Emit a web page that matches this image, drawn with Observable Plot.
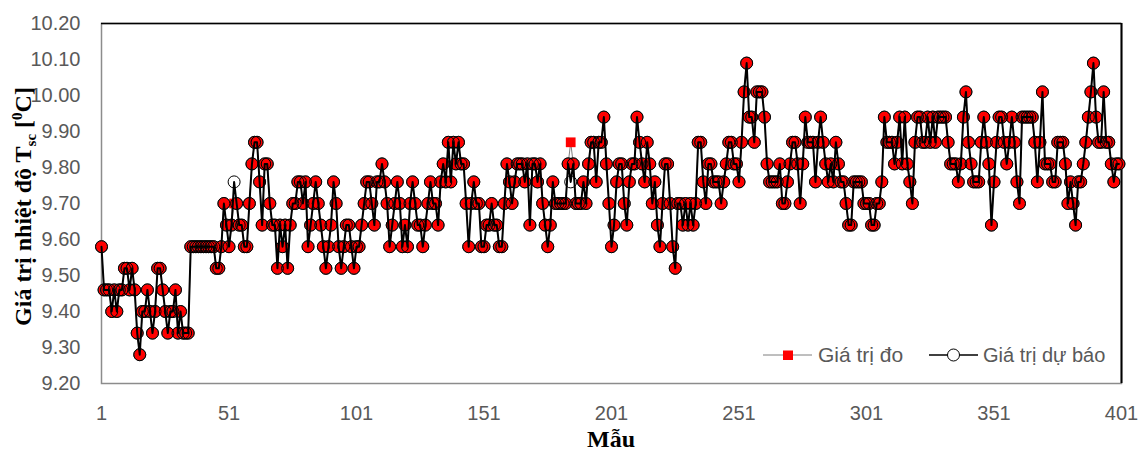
<!DOCTYPE html>
<html><head><meta charset="utf-8">
<script src="https://cdn.jsdelivr.net/npm/d3@7"></script>
<script src="https://cdn.jsdelivr.net/npm/@observablehq/plot@0.6"></script>
<style>html,body{margin:0;padding:0;background:#fff}</style>
</head><body><div id="chart"></div>
<script>
const measured = [
  9.58, 9.46, 9.46, 9.46, 9.40, 9.46, 9.40, 9.46, 9.46, 9.52,
  9.52, 9.46, 9.52, 9.46, 9.34, 9.28, 9.40, 9.40, 9.46, 9.40,
  9.34, 9.40, 9.52, 9.52, 9.46, 9.40, 9.34, 9.40, 9.40, 9.46,
  9.34, 9.40, 9.34, 9.34, 9.34, 9.58, 9.58, 9.58, 9.58, 9.58,
  9.58, 9.58, 9.58, 9.58, 9.58, 9.52, 9.52, 9.58, 9.70, 9.64,
  9.58, 9.64, 9.70, 9.70, 9.64, 9.64, 9.58, 9.58, 9.70, 9.81,
  9.87, 9.87, 9.76, 9.64, 9.81, 9.81, 9.70, 9.64, 9.64, 9.52,
  9.64, 9.58, 9.64, 9.52, 9.64, 9.70, 9.70, 9.76, 9.76, 9.70,
  9.76, 9.58, 9.64, 9.70, 9.76, 9.70, 9.64, 9.58, 9.52, 9.58,
  9.64, 9.76, 9.70, 9.58, 9.52, 9.58, 9.64, 9.64, 9.58, 9.52,
  9.58, 9.58, 9.64, 9.70, 9.76, 9.76, 9.70, 9.64, 9.76, 9.76,
  9.81, 9.76, 9.70, 9.58, 9.64, 9.70, 9.76, 9.70, 9.58, 9.64,
  9.58, 9.70, 9.76, 9.70, 9.64, 9.64, 9.58, 9.64, 9.70, 9.76,
  9.70, 9.70, 9.64, 9.76, 9.81, 9.76, 9.87, 9.76, 9.87, 9.81,
  9.87, 9.81, 9.81, 9.70, 9.58, 9.70, 9.76, 9.70, 9.70, 9.58,
  9.58, 9.64, 9.64, 9.70, 9.64, 9.64, 9.58, 9.58, 9.70, 9.81,
  9.76, 9.70, 9.76, 9.81, 9.81, 9.81, 9.76, 9.81, 9.64, 9.81,
  9.81, 9.76, 9.81, 9.70, 9.64, 9.58, 9.64, 9.76, 9.70, 9.70,
  9.70, 9.70, 9.70, 9.81, 9.87, 9.81, 9.70, 9.70, 9.70, 9.76,
  9.70, 9.81, 9.87, 9.87, 9.76, 9.87, 9.87, 9.94, 9.81, 9.70,
  9.58, 9.64, 9.76, 9.81, 9.81, 9.70, 9.64, 9.76, 9.81, 9.81,
  9.94, 9.87, 9.81, 9.76, 9.87, 9.81, 9.70, 9.76, 9.64, 9.58,
  9.70, 9.81, 9.81, 9.70, 9.58, 9.52, 9.70, 9.70, 9.64, 9.70,
  9.64, 9.70, 9.64, 9.70, 9.87, 9.87, 9.76, 9.70, 9.81, 9.81,
  9.76, 9.76, 9.76, 9.70, 9.76, 9.81, 9.87, 9.87, 9.81, 9.81,
  9.76, 9.87, 10.01, 10.09, 9.94, 9.94, 9.87, 10.01, 10.01, 10.01,
  9.94, 9.81, 9.76, 9.76, 9.76, 9.76, 9.81, 9.70, 9.70, 9.76,
  9.81, 9.87, 9.87, 9.81, 9.70, 9.81, 9.94, 9.87, 9.87, 9.87,
  9.76, 9.87, 9.94, 9.87, 9.81, 9.76, 9.81, 9.76, 9.87, 9.81,
  9.76, 9.76, 9.70, 9.64, 9.64, 9.76, 9.76, 9.76, 9.76, 9.70,
  9.70, 9.70, 9.64, 9.64, 9.70, 9.70, 9.76, 9.94, 9.87, 9.87,
  9.87, 9.81, 9.87, 9.94, 9.81, 9.94, 9.81, 9.76, 9.70, 9.87,
  9.94, 9.94, 9.87, 9.87, 9.94, 9.87, 9.94, 9.87, 9.94, 9.94,
  9.94, 9.94, 9.87, 9.81, 9.81, 9.81, 9.76, 9.81, 9.94, 10.01,
  9.87, 9.81, 9.76, 9.76, 9.76, 9.87, 9.94, 9.87, 9.81, 9.64,
  9.76, 9.87, 9.94, 9.94, 9.87, 9.81, 9.87, 9.94, 9.87, 9.76,
  9.70, 9.94, 9.94, 9.94, 9.94, 9.94, 9.87, 9.76, 9.87, 10.01,
  9.81, 9.81, 9.81, 9.76, 9.76, 9.87, 9.87, 9.87, 9.81, 9.70,
  9.76, 9.70, 9.64, 9.76, 9.76, 9.81, 9.87, 9.94, 10.01, 10.09,
  9.94, 9.87, 9.87, 10.01, 9.87, 9.87, 9.81, 9.76, 9.81, 9.81
];
// Samples where the forecast differs from the measurement: [sample, forecast]
const forecastDiffs = [[53, 9.76], [185, 9.76]];
const xTicks = [1, 51, 101, 151, 201, 251, 301, 351, 401];
const yTicks = [9.2, 9.3, 9.4, 9.5, 9.6, 9.7, 9.8, 9.9, 10.0, 10.1, 10.2];
const seriesNames = ["Giá trị đo", "Giá trị dự báo"];

const rows = measured.map((v, k) => ({ i: k + 1, m: v, p: v }));
forecastDiffs.forEach(([i, v]) => { rows[i - 1].p = v; });

const W = 1138, H = 452, mL = 101, mR = 17, mT = 23, mB = 69;

const chart = Plot.plot({
  width: W, height: H,
  marginLeft: mL, marginRight: mR, marginTop: mT, marginBottom: mB,
  style: { fontFamily: "'Liberation Sans', Arial, sans-serif", fontSize: "20px", color: "#595959", background: "#fff", overflow: "visible" },
  x: { domain: [1, 401], ticks: xTicks, tickSize: 0, tickPadding: 22, label: null, tickFormat: d => String(d) },
  y: { domain: [9.2, 10.2], ticks: yTicks, tickFormat: d3.format(".2f"), tickSize: 0, tickPadding: 21, label: null },
  marks: [
    Plot.frame({ stroke: "#8c8c8c", strokeWidth: 1.5 }),
    Plot.ruleY([10.2], { stroke: "#000", strokeWidth: 1.5 }),
    Plot.ruleX([401], { stroke: "#000", strokeWidth: 2 }),
    Plot.line(rows, { x: "i", y: "m", stroke: "#7f7f7f", strokeWidth: 1 }),
    Plot.dot(rows.filter(d => d.m === d.p), { x: "i", y: "m", r: 6, fill: "#ff0000", stroke: "#404040", strokeWidth: 1 }),
    Plot.dot(rows.filter(d => d.m !== d.p), { x: "i", y: "m", r: 5.5, symbol: "square", fill: "#ff0000", stroke: "none" }),
    Plot.line(rows, { x: "i", y: "p", stroke: "#000", strokeWidth: 2 }),
    Plot.dot(rows, { x: "i", y: "p", r: 6, fill: "none", stroke: "#000", strokeWidth: 1 })
  ]
});

const svg = d3.select(chart);
// Y axis title
const yt = svg.append("text")
  .attr("transform", `translate(31,${(80 + 333) / 2}) rotate(-90)`)
  .attr("text-anchor", "middle")
  .style("font-family", "'Liberation Serif', 'Times New Roman', serif")
  .style("font-weight", "bold").style("font-size", "24px").attr("fill", "#000");
yt.append("tspan").text("Giá trị nhiệt độ T");
yt.append("tspan").text("sc").style("font-size", "15px").attr("dy", "5");
yt.append("tspan").text(" [").attr("dy", "-5");
yt.append("tspan").text("0").style("font-size", "15px").attr("dy", "-9");
yt.append("tspan").text("C]").attr("dy", "9");

// X axis title
svg.append("text")
  .attr("x", (mL + (W - mR)) / 2).attr("y", 447)
  .attr("text-anchor", "middle")
  .style("font-family", "'Liberation Serif', 'Times New Roman', serif")
  .style("font-weight", "bold").style("font-size", "24px").attr("fill", "#000")
  .text("Mẫu");

// Legend
const lg = svg.append("g").attr("text-anchor", "start");
lg.append("line").attr("x1", 763).attr("x2", 812).attr("y1", 355).attr("y2", 355).attr("stroke", "#7f7f7f").attr("stroke-width", 1);
lg.append("rect").attr("x", 783).attr("y", 350.5).attr("width", 10).attr("height", 9.5).attr("fill", "#ff0000");
lg.append("text").attr("x", 818).attr("y", 362).attr("fill", "#595959").attr("text-anchor", "start")
  .style("font-family", "'Liberation Sans', Arial, sans-serif").style("font-size", "21px").text(seriesNames[0]);
lg.append("line").attr("x1", 929).attr("x2", 978).attr("y1", 355).attr("y2", 355).attr("stroke", "#000").attr("stroke-width", 1.5);
lg.append("circle").attr("cx", 953.5).attr("cy", 355).attr("r", 6).attr("fill", "#fff").attr("stroke", "#000").attr("stroke-width", 1);
lg.append("text").attr("x", 983).attr("y", 362).attr("fill", "#595959").attr("text-anchor", "start")
  .style("font-family", "'Liberation Sans', Arial, sans-serif").style("font-size", "20px").text(seriesNames[1]);

document.getElementById("chart").appendChild(chart);
</script>
</body></html>
